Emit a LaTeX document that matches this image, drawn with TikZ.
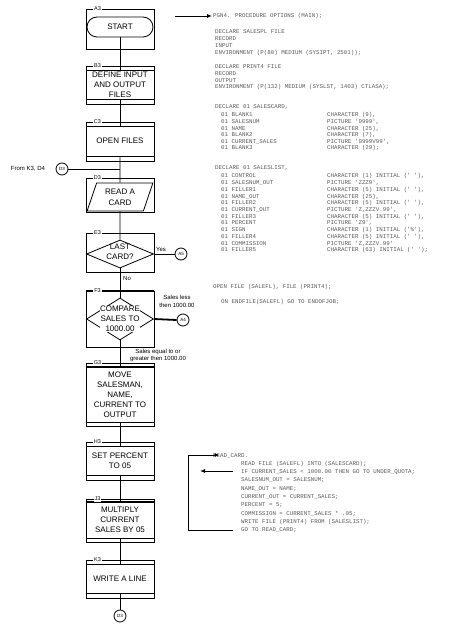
\documentclass[tikz,border=0pt]{standalone}
\usepackage{fontspec}
\setmainfont{Liberation Sans}
\newfontfamily\codefont{Liberation Mono}
\usetikzlibrary{shapes.geometric,arrows.meta}
\newcounter{cln}
\newcommand\codeat[3]{\stepcounter{cln}\node[code] (cl\arabic{cln}) at (#1,#2) {#3};}
\tikzset{
 frame/.style={draw, line width=0.8pt, minimum width=68pt, inner sep=0pt},
 proc/.style={draw, line width=0.8pt, minimum width=68pt, inner sep=0pt, align=center, font=\fontsize{8}{10}\selectfont},
 ftext/.style={align=center, inner sep=0pt, font=\fontsize{8}{10}\selectfont},
 lbl/.style={fill=white, inner sep=1pt, font=\fontsize{5.5}{6}\selectfont},
 conn/.style={circle, draw, line width=0.8pt, minimum size=12pt, inner sep=0pt, font=\fontsize{4.5}{5}\selectfont},
 note/.style={align=center, inner sep=0pt, font=\fontsize{6}{7}\selectfont},
 code/.style={anchor=base west, inner sep=0pt, text=black!65, font=\codefont\fontsize{5.8}{7}\selectfont},
 arr/.style={line width=0.9pt, -{Latex[length=5pt,width=4pt]}},
 wire/.style={line width=0.8pt},
 heavy/.style={line width=1.8pt},
}
\begin{document}
\begin{tikzpicture}[x=1pt,y=-1pt]
\useasboundingbox (0,0) rectangle (462,628);
% ---------- frames ----------
\node[frame, minimum height=40pt] (A3f) at (120,29) {};
\node[draw, line width=0.8pt, rounded corners=10pt, minimum width=66pt, minimum height=20pt, inner sep=0pt, font=\fontsize{8}{10}\selectfont] (start) at (120,27) {START};
\node[lbl] (A3l) at (97.5,9) {A3};

\node[frame, minimum height=38pt] (B3f) at (120,85) {};
\node[proc, minimum height=29pt] (B3) at (120,84.5) {DEFINE INPUT\\AND OUTPUT\\FILES};
\node[lbl] (B3l) at (97.5,66) {B3};

\node[frame, minimum height=39pt] (C3f) at (120,141.5) {};
\node[proc, minimum height=30pt] (C3) at (120,141) {OPEN FILES};
\node[lbl] (C3l) at (97.5,122) {C3};

\node[frame, minimum height=34pt] (D3f) at (120,195) {};
\node[draw, line width=0.8pt, trapezium, trapezium left angle=70, trapezium right angle=110, trapezium stretches=true, minimum width=66pt, minimum height=28pt, inner sep=0pt, align=center, font=\fontsize{8}{11}\selectfont] (D3) at (120,197) {READ A\\CARD};
\node[lbl] (D3l) at (97.5,178) {D3};

\node[frame, minimum height=39pt] (E3f) at (120,252.5) {};
\node[draw, line width=0.8pt, diamond, minimum width=67pt, minimum height=28pt, inner sep=0pt] (E3) at (120,254) {};
\node[ftext] (E3t) at (120,252) {LAST\\CARD?};
\node[lbl] (E3l) at (97.5,233) {E3};

\node[frame, minimum height=56pt] (F3f) at (120,319) {};
\draw[heavy] (F3f.north west) -- (F3f.north east);
\node[draw, line width=0.8pt, diamond, minimum width=67pt, minimum height=42pt, inner sep=0pt] (F3) at (120,319) {};
\node[ftext, fill=white, inner sep=0.5pt] (F3t) at (120,319) {COMPARE\\SALES TO\\1000.00};
\node[lbl] (F3l) at (97.5,291) {F3};

\node[frame, minimum height=63pt] (G3f) at (120,394.5) {};
\node[proc, minimum height=55pt] (G3) at (120,394.5) {MOVE\\SALESMAN,\\NAME,\\CURRENT TO\\OUTPUT};
\draw[heavy] (G3.north west) -- (G3.north east);
\draw[heavy] (G3.south west) -- (G3.south east);
\node[lbl] (G3l) at (97.5,363) {G3};

\node[frame, minimum height=38pt] (H3f) at (120,461) {};
\node[proc, minimum height=29pt] (H3) at (120,460.5) {SET PERCENT\\TO 05};
\node[lbl] (H3l) at (97.5,442) {H3};

\node[frame, minimum height=43pt] (J3f) at (120,520.5) {};
\node[proc, minimum height=36pt] (J3) at (120,520) {MULTIPLY\\CURRENT\\SALES BY 05};
\draw[heavy] (J3.north west) -- (J3.north east);
\node[lbl] (J3l) at (97.5,499) {J3};

\node[frame, minimum height=38pt] (K3f) at (120,579) {};
\node[proc, minimum height=29pt] (K3) at (120,578.5) {WRITE A LINE};
\draw[heavy] (K3.south west) -- (K3.south east);
\node[lbl] (K3l) at (97.5,560) {K3};

% ---------- connectors ----------
\node[conn] (cD3) at (62,169) {D3};
\node[note] (from) at (28,169) {From K3, D4};
\node[conn] (cA5) at (181,254) {A5};
\node[conn] (cA4) at (183,320) {A4};
\node[conn] (cD3b) at (120,616) {D3};
\coordinate (jn) at (120,169);

\draw[wire] (start.south) -- (B3.north);
\draw[wire] (B3.south) -- (C3.north);
\draw[wire] (C3.south) -- (D3.north);
\draw[wire] (cD3.east) -- (jn);
\draw[wire] (D3.south) -- (E3.north);
\draw[wire] (E3.south) -- (F3.north);
\draw[wire] (F3.south) -- (G3.north);
\draw[wire] (G3.south) -- (H3.north);
\draw[wire] (H3.south) -- (J3.north);
\draw[wire] (J3.south) -- (K3.north);
\draw[wire] (K3.south) -- (cD3b.north);
\draw[wire] (E3.east) -- (cA5.west);
\draw[heavy] (F3.east) -- (cA4.west);

\node[note] (yes) at (161,249) {Yes};
\node[note, anchor=west] (no) at (123,278) {No};
\node[note, font=\fontsize{6}{8}\selectfont] (less) at (177,301) {Sales less\\then 1000.00};
\node[note] (geq) at (158,355) {Sales equal to or\\greater then 1000.00};

% ---------- program listing ----------
\codeat{213}{18}{PGN4. PROCEDURE OPTIONS (MAIN);}
\codeat{215}{34}{DECLARE SALESPL FILE}
\codeat{215}{41}{RECORD}
\codeat{215}{48}{INPUT}
\codeat{215}{55}{ENVIRONMENT (P(80) MEDIUM (SYSIPT, 2501));}
\codeat{215}{69}{DECLARE PRINT4 FILE}
\codeat{215}{76}{RECORD}
\codeat{215}{82.5}{OUTPUT}
\codeat{215}{89}{ENVIRONMENT (P(132) MEDIUM (SYSLST, 1403) CTLASA);}
\codeat{215}{109}{DECLARE 01 SALESCARD,}
\codeat{221}{117}{01 BLANK1}        \codeat{327}{117}{CHARACTER (9),}
\codeat{221}{123.6}{01 SALESNUM}    \codeat{327}{123.6}{PICTURE '9999',}
\codeat{221}{130.2}{01 NAME}        \codeat{327}{130.2}{CHARACTER (25),}
\codeat{221}{136.8}{01 BLANK2}      \codeat{327}{136.8}{CHARACTER (7),}
\codeat{221}{143.4}{01 CURRENT\_SALES} \codeat{327}{143.4}{PICTURE '9999V99',}
\codeat{221}{150}{01 BLANK3}        \codeat{327}{150}{CHARACTER (29);}
\codeat{215}{170}{DECLARE 01 SALESLIST,}
\codeat{221}{178}{01 CONTROL}       \codeat{327}{178}{CHARACTER (1) INITIAL (' '),}
\codeat{221}{184.7}{01 SALESNUM\_OUT} \codeat{327}{184.7}{PICTURE 'ZZZ9',}
\codeat{221}{191.4}{01 FILLER1}     \codeat{327}{191.4}{CHARACTER (5) INITIAL (' '),}
\codeat{221}{198.1}{01 NAME\_OUT}   \codeat{327}{198.1}{CHARACTER (25),}
\codeat{221}{204.8}{01 FILLER2}     \codeat{327}{204.8}{CHARACTER (5) INITIAL (' '),}
\codeat{221}{211.5}{01 CURRENT\_OUT} \codeat{327}{211.5}{PICTURE 'Z,ZZZV.99',}
\codeat{221}{218.2}{01 FILLER3}     \codeat{327}{218.2}{CHARACTER (5) INITIAL (' '),}
\codeat{221}{224.9}{01 PERCENT}     \codeat{327}{224.9}{PICTURE 'Z9',}
\codeat{221}{231.6}{01 SIGN}        \codeat{327}{231.6}{CHARACTER (1) INITIAL ('\%'),}
\codeat{221}{238.3}{01 FILLER4}     \codeat{327}{238.3}{CHARACTER (5) INITIAL (' '),}
\codeat{221}{245}{01 COMMISSION}    \codeat{327}{245}{PICTURE 'Z,ZZZV.99'}
\codeat{221}{251.7}{01 FILLER5}     \codeat{327}{251.7}{CHARACTER (63) INITIAL (' ');}
\codeat{213}{288}{OPEN FILE (SALEFL), FILE (PRINT4);}
\codeat{221}{303}{ON ENDFILE(SALEFL) GO TO ENDOFJOB;}

\codeat{213}{457}{READ\_CARD.}
\codeat{241}{465.3}{READ FILE (SALEFL) INTO (SALESCARD);}
\codeat{241}{473.6}{IF CURRENT\_SALES < 1000.00 THEN GO TO UNDER\_QUOTA;}
\codeat{241}{481.9}{SALESNUM\_OUT = SALESNUM;}
\codeat{241}{490.2}{NAME\_OUT = NAME;}
\codeat{241}{498.5}{CURRENT\_OUT = CURRENT\_SALES;}
\codeat{241}{506.8}{PERCENT = 5;}
\codeat{241}{515.1}{COMMISSION = CURRENT\_SALES * .05;}
\codeat{241}{523.4}{WRITE FILE (PRINT4) FROM (SALESLIST);}
\codeat{241}{531.7}{GO TO READ\_CARD;}

% ---------- arrows of the listing ----------
\coordinate (t0) at (175,16);
\draw[arr, shorten >=1pt] (t0) -- (t0 -| cl1.west);
\coordinate (lb) at (233,530);
\coordinate (lc) at (188,530);
\coordinate (lt) at (188,455);
\draw[arr, shorten >=1.5pt] (lb) -- (lc) -- (lt) -- (lt -| cl42.west);
\coordinate (ia) at (233,471);
\coordinate (ib) at (200,471);
\draw[arr] (ia) -- (ib);
\end{tikzpicture}
\end{document}
